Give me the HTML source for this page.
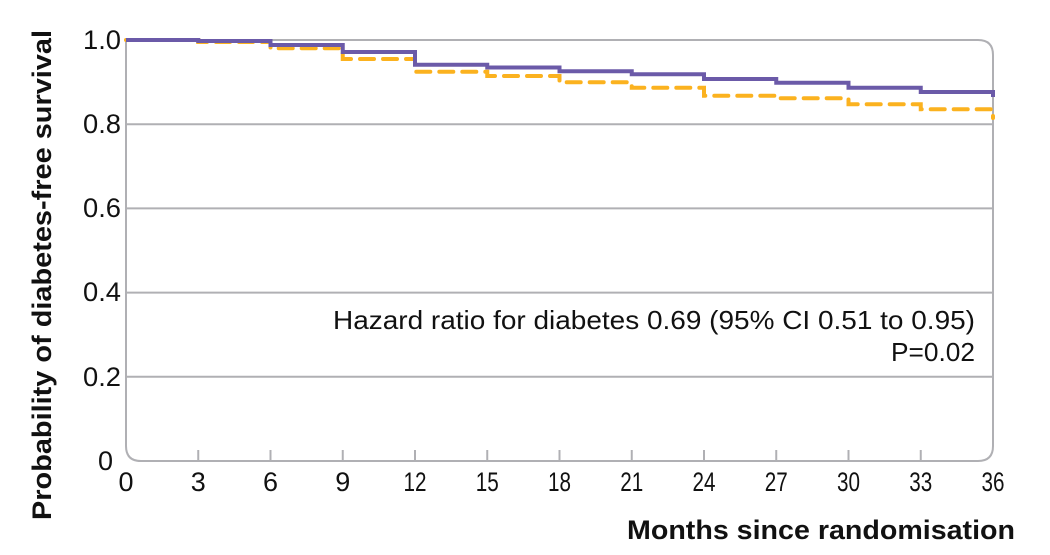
<!DOCTYPE html>
<html><head><meta charset="utf-8"><style>html,body{margin:0;padding:0;background:#fff;}svg{display:block}</style></head>
<body>
<svg width="1050" height="555" viewBox="0 0 1050 555" xmlns="http://www.w3.org/2000/svg" font-family="Liberation Sans, sans-serif">
<g stroke="#b0b0b4" stroke-width="2" fill="none">
<line x1="126" y1="124.2" x2="993" y2="124.2"/>
<line x1="126" y1="208.4" x2="993" y2="208.4"/>
<line x1="126" y1="292.6" x2="993" y2="292.6"/>
<line x1="126" y1="376.8" x2="993" y2="376.8"/>
<path d="M126,40 H978 Q993,40 993,55 V446 Q993,461 978,461 H141 Q126,461 126,446 Z"/>
<g>
<line x1="198.25" y1="461" x2="198.25" y2="450"/><line x1="270.5" y1="461" x2="270.5" y2="450"/><line x1="342.75" y1="461" x2="342.75" y2="450"/><line x1="415" y1="461" x2="415" y2="450"/><line x1="487.25" y1="461" x2="487.25" y2="450"/><line x1="559.5" y1="461" x2="559.5" y2="450"/><line x1="631.75" y1="461" x2="631.75" y2="450"/><line x1="704" y1="461" x2="704" y2="450"/><line x1="776.25" y1="461" x2="776.25" y2="450"/><line x1="848.5" y1="461" x2="848.5" y2="450"/><line x1="920.75" y1="461" x2="920.75" y2="450"/>
</g>
</g>
<path d="M126,40 H198.25 V42 H270.5 V48.3 H342.75 V59 H415 V71.7 H487.25 V76 H559.5 V82.3 H631.75 V87.7 H704 V95.7 H776.25 V98.3 H848.5 V104.3 H920.75 V109.3 H993 V118" fill="none" stroke="#fbb21f" stroke-width="4" stroke-dasharray="14,9" stroke-linecap="round"/>
<path d="M126,40 H198.25 V41 H270.5 V45 H342.75 V52 H415 V64.7 H487.25 V67.5 H559.5 V71.3 H631.75 V74.3 H704 V79 H776.25 V82.7 H848.5 V87.7 H920.75 V92 H993 V97" fill="none" stroke="#6b5aa8" stroke-width="4"/>
<g font-size="27" fill="#111" text-anchor="end">
<text x="121" y="49" textLength="38" lengthAdjust="spacingAndGlyphs">1.0</text><text x="121" y="133" textLength="38" lengthAdjust="spacingAndGlyphs">0.8</text><text x="121" y="217" textLength="38" lengthAdjust="spacingAndGlyphs">0.6</text><text x="121" y="301" textLength="38" lengthAdjust="spacingAndGlyphs">0.4</text><text x="121" y="386" textLength="38" lengthAdjust="spacingAndGlyphs">0.2</text><text x="113" y="470">0</text>
</g>
<g font-size="27" fill="#111" text-anchor="middle">
<text x="126" y="491">0</text><text x="198.25" y="491">3</text><text x="270.5" y="491">6</text><text x="342.75" y="491">9</text>
<text x="415" y="491" textLength="23" lengthAdjust="spacingAndGlyphs">12</text><text x="487.25" y="491" textLength="23" lengthAdjust="spacingAndGlyphs">15</text><text x="559.5" y="491" textLength="23" lengthAdjust="spacingAndGlyphs">18</text><text x="631.75" y="491" textLength="23" lengthAdjust="spacingAndGlyphs">21</text><text x="704" y="491" textLength="23" lengthAdjust="spacingAndGlyphs">24</text><text x="776.25" y="491" textLength="23" lengthAdjust="spacingAndGlyphs">27</text><text x="848.5" y="491" textLength="23" lengthAdjust="spacingAndGlyphs">30</text><text x="920.75" y="491" textLength="23" lengthAdjust="spacingAndGlyphs">33</text><text x="993" y="491" textLength="23" lengthAdjust="spacingAndGlyphs">36</text>
</g>
<text x="333" y="329" font-size="26" fill="#111" textLength="642" lengthAdjust="spacingAndGlyphs">Hazard ratio for diabetes 0.69 (95% CI 0.51 to 0.95)</text>
<text x="975" y="361" font-size="26" fill="#111" text-anchor="end" textLength="84" lengthAdjust="spacingAndGlyphs">P=0.02</text>
<text x="627" y="539" font-size="27" font-weight="bold" fill="#111" textLength="388" lengthAdjust="spacingAndGlyphs">Months since randomisation</text>
<text transform="translate(51,520) rotate(-90)" font-size="27" font-weight="bold" fill="#111" textLength="490" lengthAdjust="spacingAndGlyphs">Probability of diabetes-free survival</text>
</svg>
</body></html>
